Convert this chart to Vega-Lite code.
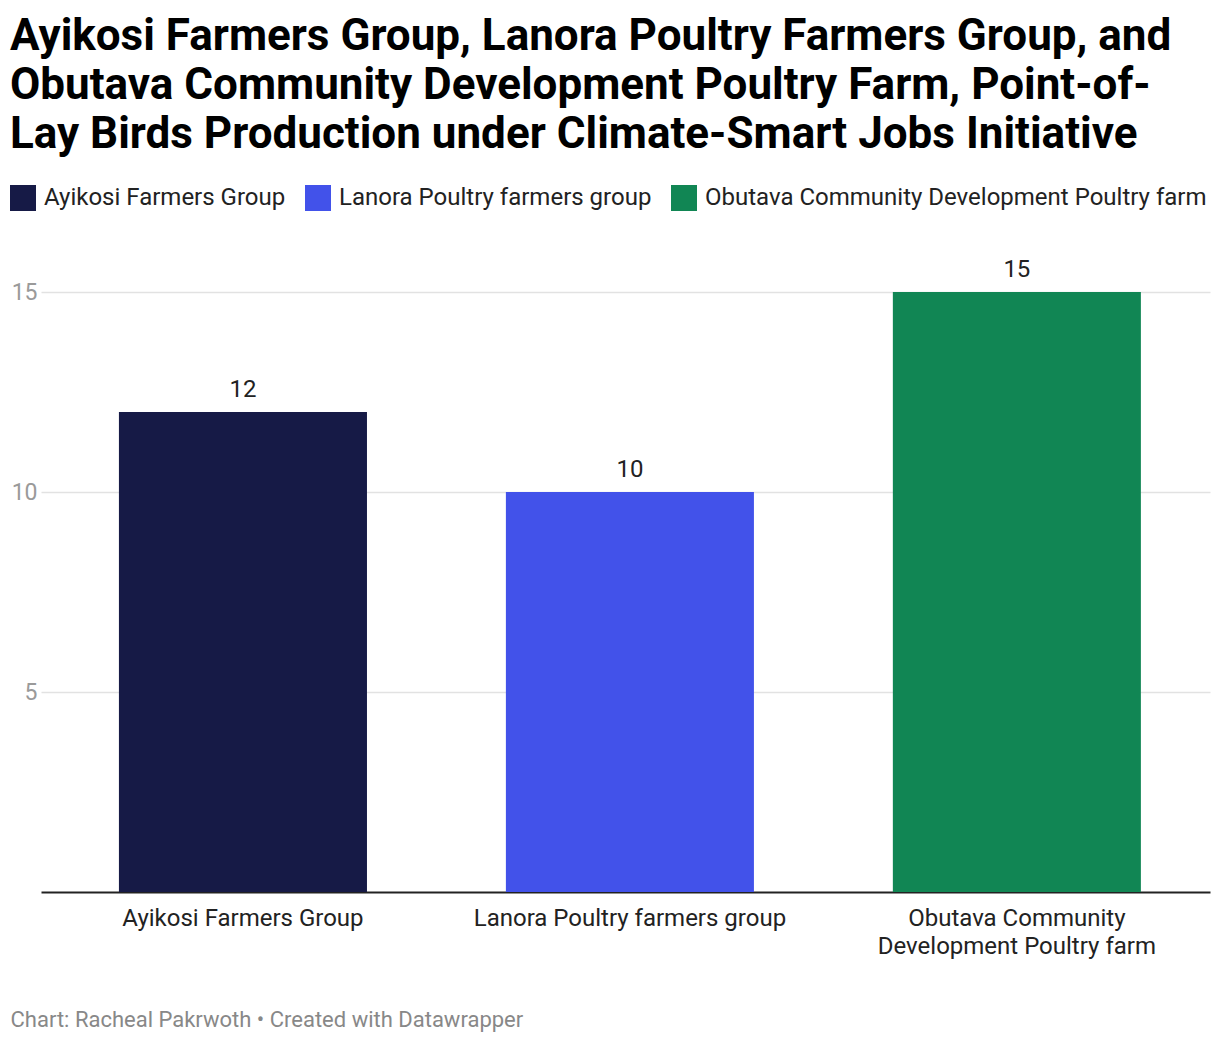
{
  "$schema": "https://vega.github.io/schema/vega-lite/v6.json",
  "width": 1169,
  "height": 640,
  "autosize": {"type": "none"},
  "padding": {"left": 41, "top": 252, "right": 10, "bottom": 150},
  "background": "white",
  "config": {
    "font": "Roboto",
    "view": {"stroke": null}
  },
  "title": {
    "text": [
      "Ayikosi Farmers Group, Lanora Poultry Farmers Group, and",
      "Obutava Community Development Poultry Farm, Point-of-",
      "Lay Birds Production under Climate-Smart Jobs Initiative"
    ],
    "anchor": "start",
    "frame": "group",
    "dx": -31,
    "fontSize": 44,
    "lineHeight": 49,
    "fontWeight": "bold",
    "color": "#000000",
    "font": "Roboto",
    "orient": "top",
    "offset": 28
  },
  "data": {
    "values": [
      {"group": "Ayikosi Farmers Group", "birds": 12},
      {"group": "Lanora Poultry farmers group", "birds": 10},
      {"group": "Obutava Community Development Poultry farm", "birds": 15}
    ]
  },
  "encoding": {
    "x": {
      "field": "group",
      "type": "nominal",
      "sort": null,
      "scale": {"paddingInner": 0.359, "paddingOuter": 0.19, "align": 0.53},
      "axis": {
        "title": "Chart: Racheal Pakrwoth • Created with Datawrapper",
        "titleAnchor": "start",
        "titleAlign": "left",
        "titleBaseline": "alphabetic",
        "titleX": -31,
        "titleY": 134,
        "titleColor": "#888888",
        "titleFontSize": 22,
        "titleFontWeight": "normal",
        "labelAngle": 0,
        "labelFontSize": 24,
        "labelColor": "#222222",
        "labelPadding": 14,
        "labelLineHeight": 28,
        "labelLimit": 400,
        "labelExpr": "datum.label == 'Obutava Community Development Poultry farm' ? ['Obutava Community', 'Development Poultry farm'] : datum.label",
        "domainColor": "#222222",
        "domainWidth": 2,
        "ticks": false,
        "grid": false
      }
    },
    "y": {
      "field": "birds",
      "type": "quantitative",
      "scale": {"domain": [0, 16], "nice": false},
      "axis": {
        "title": null,
        "values": [5, 10, 15],
        "domain": false,
        "ticks": false,
        "labelColor": "#9a9a9a",
        "labelFontSize": 23,
        "labelPadding": 4,
        "gridColor": "#e2e2e2",
        "gridWidth": 1.5
      }
    }
  },
  "layer": [
    {
      "mark": {"type": "bar"},
      "encoding": {
        "color": {
          "field": "group",
          "type": "nominal",
          "sort": null,
          "scale": {"range": ["#161a46", "#4252ea", "#118654"]},
          "legend": {
            "title": null,
            "orient": "none",
            "direction": "horizontal",
            "legendX": -31,
            "legendY": -67,
            "symbolType": "square",
            "symbolSize": 676,
            "symbolStrokeWidth": 0,
            "symbolOpacity": 1,
            "labelFontSize": 24,
            "labelColor": "#222222",
            "labelOffset": 8,
            "labelLimit": 600,
            "columnPadding": 19
          }
        }
      }
    },
    {
      "mark": {"type": "text", "dy": -15, "baseline": "alphabetic", "fontSize": 24, "color": "#222222"},
      "encoding": {
        "text": {"field": "birds", "type": "quantitative"}
      }
    }
  ]
}
